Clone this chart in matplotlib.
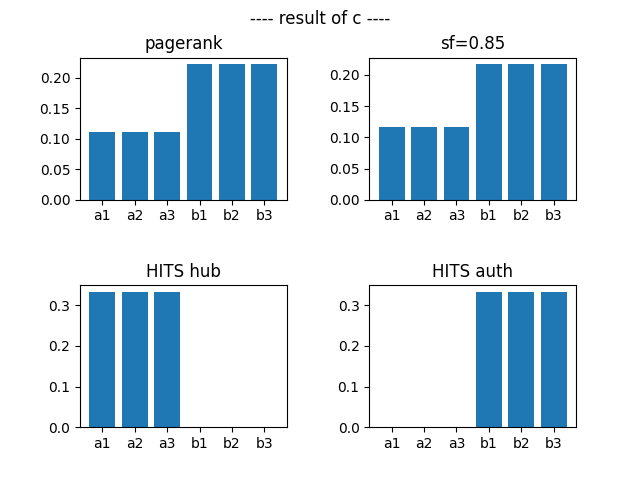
import matplotlib
matplotlib.use("Agg")
import matplotlib.pyplot as plt

nodes = ["a1", "a2", "a3", "b1", "b2", "b3"]
pagerank = [1/9, 1/9, 1/9, 2/9, 2/9, 2/9]
sf085 = [0.1167, 0.1167, 0.1167, 0.2167, 0.2167, 0.2167]
hits_hub = [1/3, 1/3, 1/3, 0.0, 0.0, 0.0]
hits_auth = [0.0, 0.0, 0.0, 1/3, 1/3, 1/3]
titles = ["pagerank", "sf=0.85", "HITS hub", "HITS auth"]

fig, axes = plt.subplots(2, 2, figsize=(6.4, 4.8), dpi=100)
for ax, vals, t in zip(axes.flat, [pagerank, sf085, hits_hub, hits_auth], titles):
    ax.bar(nodes, vals)
    ax.set_title(t)
fig.suptitle("---- result of c ----")
plt.subplots_adjust(wspace=0.4, hspace=0.6)
fig.savefig("out.png")
